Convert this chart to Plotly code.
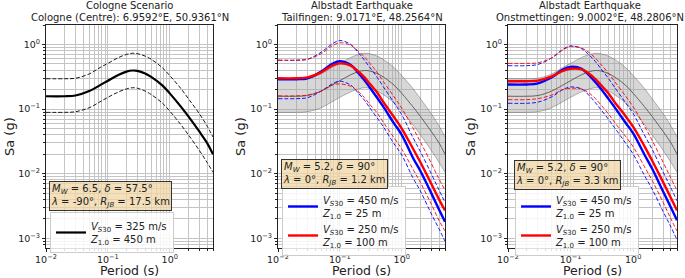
import plotly.graph_objects as go

W, H = 685, 278

periods = [0.01, 0.02, 0.03, 0.05, 0.075, 0.1, 0.15, 0.2, 0.25, 0.3, 0.4, 0.5, 0.75, 1.0, 1.5, 2.0, 3.0, 4.0, 5.0]

# Cologne scenario (median, +/- sigma)
cologne_med = [0.158, 0.158, 0.162, 0.19, 0.235, 0.275, 0.34, 0.38, 0.395, 0.39, 0.355, 0.315, 0.235, 0.175, 0.11, 0.077, 0.045, 0.03, 0.02]
cologne_hi = [0.295, 0.295, 0.30, 0.35, 0.44, 0.51, 0.63, 0.70, 0.73, 0.72, 0.66, 0.59, 0.44, 0.33, 0.21, 0.145, 0.085, 0.055, 0.037]
cologne_lo = [0.089, 0.089, 0.091, 0.105, 0.13, 0.152, 0.185, 0.205, 0.214, 0.21, 0.19, 0.168, 0.125, 0.093, 0.058, 0.04, 0.023, 0.015, 0.0105]

# Albstadt - Tailfingen
tail_blue_med = [0.29, 0.29, 0.30, 0.38, 0.50, 0.55, 0.48, 0.36, 0.28, 0.22, 0.15, 0.11, 0.06, 0.04, 0.018, 0.011, 0.0050, 0.0028, 0.0018]
tail_blue_hi = [0.57, 0.57, 0.59, 0.76, 1.02, 1.15, 1.0, 0.74, 0.57, 0.45, 0.31, 0.225, 0.125, 0.082, 0.037, 0.022, 0.010, 0.0056, 0.0036]
tail_blue_lo = [0.145, 0.145, 0.15, 0.19, 0.245, 0.27, 0.235, 0.175, 0.137, 0.107, 0.073, 0.054, 0.029, 0.0195, 0.0088, 0.0054, 0.0024, 0.0014, 0.0009]
tail_red_med = [0.30, 0.30, 0.31, 0.37, 0.47, 0.51, 0.47, 0.38, 0.31, 0.25, 0.18, 0.13, 0.075, 0.05, 0.025, 0.015, 0.0070, 0.0040, 0.0027]
tail_red_hi = [0.57, 0.57, 0.59, 0.72, 0.95, 1.06, 0.97, 0.78, 0.64, 0.52, 0.37, 0.27, 0.155, 0.103, 0.052, 0.031, 0.0145, 0.0083, 0.0056]
tail_red_lo = [0.16, 0.16, 0.165, 0.19, 0.235, 0.245, 0.225, 0.185, 0.15, 0.12, 0.087, 0.063, 0.036, 0.024, 0.012, 0.0073, 0.0034, 0.0019, 0.0013]

# Albstadt - Onstmettingen
onst_blue_med = [0.24, 0.24, 0.25, 0.31, 0.41, 0.45, 0.42, 0.33, 0.26, 0.21, 0.145, 0.108, 0.062, 0.042, 0.02, 0.012, 0.0053, 0.003, 0.0019]
onst_blue_hi = [0.47, 0.47, 0.49, 0.62, 0.84, 0.95, 0.86, 0.68, 0.54, 0.43, 0.30, 0.22, 0.126, 0.085, 0.04, 0.024, 0.0106, 0.006, 0.0038]
onst_blue_lo = [0.123, 0.123, 0.128, 0.155, 0.2, 0.22, 0.205, 0.16, 0.125, 0.1, 0.07, 0.052, 0.03, 0.02, 0.0095, 0.0058, 0.0026, 0.0015, 0.00095]
onst_red_med = [0.27, 0.27, 0.275, 0.32, 0.39, 0.42, 0.41, 0.35, 0.29, 0.24, 0.175, 0.13, 0.078, 0.053, 0.027, 0.016, 0.0074, 0.0042, 0.0027]
onst_red_hi = [0.51, 0.51, 0.52, 0.62, 0.82, 0.93, 0.88, 0.74, 0.61, 0.5, 0.36, 0.27, 0.16, 0.108, 0.055, 0.033, 0.015, 0.0085, 0.0055]
onst_red_lo = [0.14, 0.14, 0.145, 0.165, 0.2, 0.21, 0.205, 0.175, 0.145, 0.118, 0.085, 0.063, 0.038, 0.026, 0.013, 0.0079, 0.0036, 0.002, 0.0013]

x_tickvals = [0.01, 0.1, 1.0]
x_ticktext = ["10<sup>−2</sup>", "10<sup>−1</sup>", "10<sup>0</sup>"]
y_tickvals = [0.001, 0.01, 0.1, 1.0]
y_ticktext = ["10<sup>−3</sup>", "10<sup>−2</sup>", "10<sup>−1</sup>", "10<sup>0</sup>"]

titles = [
    ("Cologne Scenario", "Cologne (Centre): 6.9592°E, 50.9361°N"),
    ("Albstadt Earthquake", "Tailfingen: 9.0171°E, 48.2564°N"),
    ("Albstadt Earthquake", "Onstmettingen: 9.0002°E, 48.2806°N"),
]
box_texts = [
    "<i>M<sub>W</sub></i> = 6.5, <i>δ</i> = 57.5°<br><i>λ</i> = -90°, <i>R<sub>JB</sub></i> = 17.5 km",
    "<i>M<sub>W</sub></i> = 5.2, <i>δ</i> = 90°<br><i>λ</i> = 0°, <i>R<sub>JB</sub></i> = 1.2 km",
    "<i>M<sub>W</sub></i> = 5.2, <i>δ</i> = 90°<br><i>λ</i> = 0°, <i>R<sub>JB</sub></i> = 3.3 km",
]
lab_cologne = "<i>V<sub>S</sub></i><sub>30</sub> = 325 m/s<br><i>Z</i><sub>1.0</sub> = 450 m"
lab_blue = "<i>V<sub>S</sub></i><sub>30</sub> = 450 m/s<br><i>Z</i><sub>1.0</sub> = 25 m"
lab_red = "<i>V<sub>S</sub></i><sub>30</sub> = 250 m/s<br><i>Z</i><sub>1.0</sub> = 100 m"

FONT = "DejaVu Sans"
BLUE = "#0000ff"
RED = "#ff0000"

# pixel geometry
xpix = [(46, 213), (278, 445), (508, 677)]
ytop, ybot = 25, 248
ydom = [1 - ybot / H, 1 - ytop / H]

fig = go.Figure()

def add(x, y, axis, **kw):
    xa = "x" if axis == 1 else f"x{axis}"
    ya = "y" if axis == 1 else f"y{axis}"
    fig.add_trace(go.Scatter(x=x, y=y, xaxis=xa, yaxis=ya, mode="lines",
                             line_shape="spline", hoverinfo="skip", **kw))

dash = "4px,2px"

# Panel 1
add(periods, cologne_hi, 1, line=dict(color="black", width=0.9, dash=dash), showlegend=False)
add(periods, cologne_lo, 1, line=dict(color="black", width=0.9, dash=dash), showlegend=False)
add(periods, cologne_med, 1, line=dict(color="black", width=2.2), name=lab_cologne,
    showlegend=True, legend="legend")

# Panels 2 & 3
sets = [
    (2, tail_blue_med, tail_blue_hi, tail_blue_lo, tail_red_med, tail_red_hi, tail_red_lo, "legend2"),
    (3, onst_blue_med, onst_blue_hi, onst_blue_lo, onst_red_med, onst_red_hi, onst_red_lo, "legend3"),
]
for ax, bm, bh, bl, rm, rh, rl, lg in sets:
    add(periods, cologne_lo, ax, line=dict(color="rgba(90,90,90,0.55)", width=0.8), showlegend=False)
    add(periods, cologne_hi, ax, line=dict(color="rgba(90,90,90,0.55)", width=0.8),
        fill="tonexty", fillcolor="rgba(160,160,160,0.42)", showlegend=False)
    add(periods, cologne_med, ax, line=dict(color="#555555", width=0.9), showlegend=False)
    for arr in (bh, bl):
        add(periods, arr, ax, line=dict(color=BLUE, width=0.9, dash=dash), showlegend=False)
    for arr in (rh, rl):
        add(periods, arr, ax, line=dict(color=RED, width=0.9, dash=dash), showlegend=False)
    add(periods, bm, ax, line=dict(color=BLUE, width=2.4), name=lab_blue, showlegend=True, legend=lg)
    add(periods, rm, ax, line=dict(color=RED, width=2.4), name=lab_red, showlegend=True, legend=lg)

def minor_vals(e0, e1):
    out = []
    for e in range(e0, e1 + 1):
        for d in range(2, 10):
            out.append(d * 10.0 ** e)
    return out

axis_common = dict(
    type="log", showline=True, mirror=True, linecolor="#222222", linewidth=1,
    showgrid=True, gridcolor="#c4c4c4", gridwidth=0.8, automargin=False,
    ticks="outside", ticklen=3, tickcolor="#222222", tickwidth=0.8,
    zeroline=False, tickmode="array",
    tickfont=dict(family=FONT, size=9.5, color="#222222"),
)

layout = dict(
    width=W, height=H, margin=dict(l=0, r=0, t=0, b=0, autoexpand=False),
    paper_bgcolor="white", plot_bgcolor="white",
    font=dict(family=FONT, size=10, color="#222222"),
    annotations=[], showlegend=True,
)

title_cx = [129.5, 361.5, 590]
for i, (x0, x1) in enumerate(xpix):
    n = "" if i == 0 else str(i + 1)
    layout["xaxis" + n] = dict(axis_common, domain=[x0 / W, x1 / W], range=[-2, 0.69897],
                              anchor="y" + n, tickvals=x_tickvals, ticktext=x_ticktext,
                              minor=dict(tickmode="array", tickvals=minor_vals(-2, 0),
                                         showgrid=True, gridcolor="#c4c4c4", gridwidth=0.8,
                                         ticks="outside", ticklen=2, tickcolor="#222222"))
    layout["yaxis" + n] = dict(axis_common, domain=ydom, range=[-3.15, 0.30103],
                              anchor="x" + n, tickvals=y_tickvals, ticktext=y_ticktext,
                              minor=dict(tickmode="array", tickvals=minor_vals(-4, 0),
                                         showgrid=True, gridcolor="#c4c4c4", gridwidth=0.8,
                                         ticks="outside", ticklen=2, tickcolor="#222222"))
    cx = (x0 + x1) / 2 / W
    tcx = title_cx[i] / W
    t1, t2 = titles[i]
    layout["annotations"].append(dict(xref="paper", yref="paper", x=tcx, y=1 - 6 / H,
                                      text=t1, showarrow=False, xanchor="center", yanchor="middle",
                                      font=dict(family=FONT, size=10, color="#222222")))
    layout["annotations"].append(dict(xref="paper", yref="paper", x=tcx, y=1 - 17.5 / H,
                                      text=t2, showarrow=False, xanchor="center", yanchor="middle",
                                      font=dict(family=FONT, size=10, color="#222222")))
    layout["annotations"].append(dict(xref="paper", yref="paper", x=cx, y=1 - 270.5 / H,
                                      text="Period (s)", showarrow=False, xanchor="center",
                                      yanchor="middle",
                                      font=dict(family=FONT, size=12.5, color="#222222")))

ylab_x = [9, 240, 470]
for xx in ylab_x:
    layout["annotations"].append(dict(xref="paper", yref="paper", x=xx / W, y=1 - 137 / H,
                                      text="Sa (g)", textangle=-90, showarrow=False,
                                      xanchor="center", yanchor="middle",
                                      font=dict(family=FONT, size=13, color="#222222")))

box_pos = [(49, 181), (281, 159), (514, 160)]
for (bx, by), txt in zip(box_pos, box_texts):
    layout["annotations"].append(dict(xref="paper", yref="paper", x=bx / W, y=1 - by / H,
                                      text=txt, showarrow=False, xanchor="left", yanchor="top",
                                      align="left", bgcolor="rgba(240,215,165,0.75)",
                                      bordercolor="#333333", borderwidth=1, borderpad=1,
                                      font=dict(family=FONT, size=10, color="#222222")))

leg_pos = {"legend": (50, 212), "legend2": (282, 186), "legend3": (515, 186)}
for k, (lx, ly) in leg_pos.items():
    layout[k] = dict(x=lx / W, y=1 - ly / H, xanchor="left", yanchor="top",
                     bgcolor="rgba(255,255,255,0.85)", bordercolor="#cccccc", borderwidth=1,
                     font=dict(family=FONT, size=10, color="#222222"),
                     tracegroupgap=0, itemwidth=30)

fig.update_layout(**layout)
fig.write_html("out.html", config={"displayModeBar": False},
               post_script="document.body.style.margin='0px';document.body.style.padding='0px';")
